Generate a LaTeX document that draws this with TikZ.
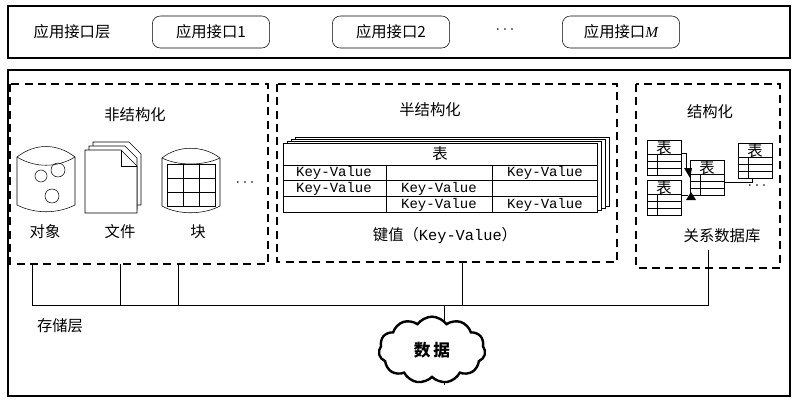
\documentclass[tikz,border=0pt]{standalone}
\usepackage{fontspec}
\setmainfont{Liberation Serif}
\newfontfamily\cjk{Noto Sans CJK SC}
\newfontfamily\latinf{Liberation Serif}
\newfontfamily\kvmono{Liberation Mono}
\usetikzlibrary{shapes.symbols}
\begin{document}
\begin{tikzpicture}[x=0.75pt,y=-0.75pt,
  lbl/.style={font=\cjk\fontsize{11.5}{13}\selectfont, inner sep=0},
  api/.style={draw, rounded corners=6pt, minimum width=88pt, minimum height=24pt, font=\cjk\fontsize{11.5}{13}\selectfont},
  dbox/.style={draw, dashed, dash pattern=on 6pt off 4pt, line width=0.9pt},
  thin/.style={line width=0.4pt},
  kv/.style={font=\kvmono\fontsize{10.5}{11}\selectfont, inner sep=0}]
\useasboundingbox (0,0) rectangle (800,401);
% top layer
\draw[line width=0.8pt] (8,6) rectangle (790,58);
\node[lbl] (apilayer) at (72,32) {应用接口层};
\node[api] (a1) at (211,32) {应用接口1};
\node[api] (a2) at (391,32) {应用接口2};
\node[lbl] (adots) at (505,30) {$\cdots$};
\node[api] (am) at (621,32) {应用接口{\latinf\itshape M}};
% main
\draw[line width=0.8pt] (8,70) rectangle (790,396);
\draw[dbox] (10,84) rectangle (268,264);
\draw[dbox] (277,84) rectangle (617,262);
\draw[dbox] (636,84) rectangle (780,268);
\node[lbl] (t1) at (135,115) {非结构化};
\node[lbl] (t2) at (430,110) {半结构化};
\node[lbl] (t3) at (710,112) {结构化};
% object icon
\draw[thin] (17,157) .. controls (35,143) and (57,143) .. (75,157) -- (75,205) .. controls (57,214) and (35,214) .. (17,205) -- cycle;
\draw[thin] (17,157) .. controls (35,168) and (57,168) .. (75,157);
\draw[thin] (41,176) circle (6); \draw[thin] (58,170) circle (7); \draw[thin] (52,196) circle (7);
% file icon
\foreach \d in {8,4} {\draw[thin,fill=white] (85+\d,150-\d) -- (121+\d,150-\d) -- (133+\d,162-\d) -- (133+\d,213-\d) -- (85+\d,213-\d) -- cycle;}
\draw[thin,fill=white] (85,150) -- (121,150) -- (137,166) -- (137,213) -- (85,213) -- cycle;
\draw[thin] (121,150) -- (121,166) -- (137,166);
% block icon
\draw[thin] (162,158) .. controls (178,145) and (203,145) .. (220,158) -- (220,206) .. controls (203,215) and (178,215) .. (162,206) -- cycle;
\draw[thin] (162,158) .. controls (178,166) and (203,166) .. (220,158);
\draw[thin] (167,164) rectangle (215,206);
\draw[thin] (183,164) -- (183,206) (199,164) -- (199,206) (167,178) -- (215,178) (167,192) -- (215,192);
\node[lbl] (udots) at (245,183) {$\cdots$};
\node[lbl] (obj) at (45,232) {对象};
\node[lbl] (file) at (120,232) {文件};
\node[lbl] (blk) at (198,232) {块};
% KV tables
\foreach \d in {12,8,4} {\draw[thin,fill=white] (283+\d,143-\d/2) rectangle (597+\d,212-\d/2);}
\draw[thin,fill=white] (283,143) rectangle (597,212);
\draw[thin] (283,165) -- (597,165) (283,180) -- (597,180) (283,196) -- (597,196);
\draw[thin] (386,165) -- (386,212) (492,165) -- (492,212);
\node[lbl] (biao) at (440,154) {表};
\node[kv] at (334,173) {Key-Value};
\node[kv] at (545,173) {Key-Value};
\node[kv] at (334,189) {Key-Value};
\node[kv] at (439,189) {Key-Value};
\node[kv] at (439,205) {Key-Value};
\node[kv] at (545,205) {Key-Value};
\node[font=\cjk\fontsize{11.5}{13}\selectfont, inner sep=0] (kvcap) at (445,236) {键值（\kvmono Key-Value\cjk ）};
% relational tables
\foreach \n/\x/\y in {ta/647/140, tb/647/180, tc/690/160, td/738/143} {
  \draw[thin,fill=white] (\x,\y) rectangle (\x+34,\y+35);
  \draw[thin] (\x,\y+14) -- (\x+34,\y+14) (\x,\y+21) -- (\x+34,\y+21) (\x,\y+28) -- (\x+34,\y+28) (\x+10,\y+14) -- (\x+10,\y+35);
  \node[lbl] (\n) at (\x+17,\y+8) {表};
}
\draw[thin] (681,153) -- (686,153) -- (686,170);
\fill (684,168) -- (692,168) -- (690,178) -- cycle;
\draw[thin] (681,195) -- (688,195);
\fill (686,200) -- (696,200) -- (691,192) -- cycle;
\draw[thin] (724,182) -- (752,182) -- (752,178);
\node[lbl] (sdots) at (757,186) {$\cdots$};
\node[lbl] (rdb) at (722,236) {关系数据库};
% storage lines
\draw[thin] (32,264) -- (32,305) -- (708,305) -- (708,250);
\draw[thin] (120,264) -- (120,305) (178,264) -- (178,305) (462,262) -- (462,305);
\draw[thin] (444,305) -- (444,385);
\node[lbl] (store) at (60,326) {存储层};
\node[cloud, cloud puffs=11, cloud puff arc=110, aspect=1.6, draw, line width=1.8pt, fill=white, minimum width=80pt, minimum height=50pt, font=\cjk\bfseries\fontsize{12.5}{14}\selectfont] (data) at (432,350) {数\,据};
\end{tikzpicture}
\end{document}
